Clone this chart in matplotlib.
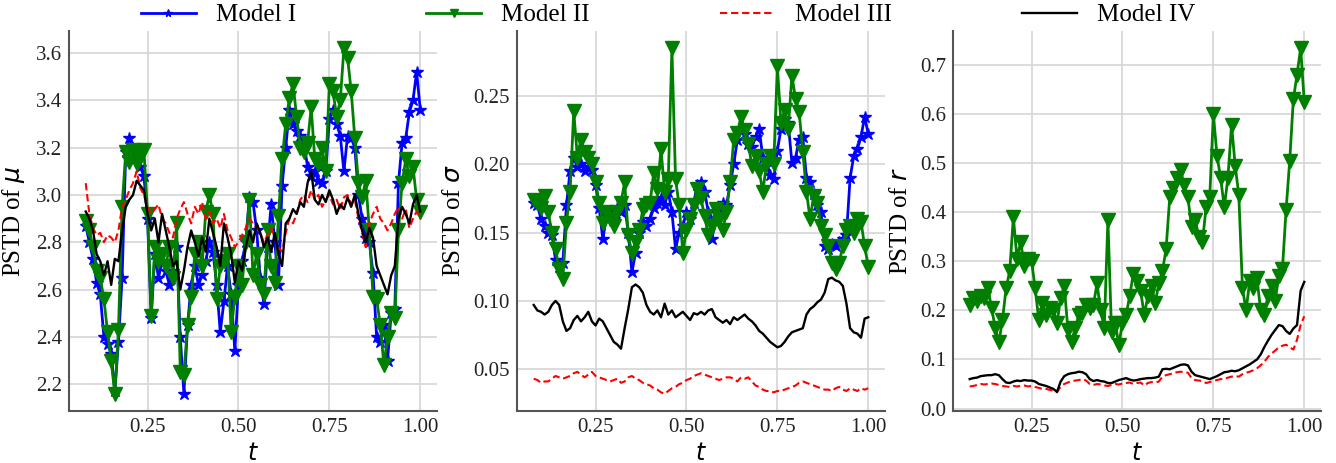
import numpy as np
import matplotlib
matplotlib.use("Agg")
import matplotlib.pyplot as plt

t = np.round(np.linspace(0.08, 1.00, 93), 2)

# ---- Panel 1: PSTD of mu ----
mu_m1 = [2.87,2.80,2.73,2.63,2.58,2.40,2.37,2.33,2.17,2.38,
         2.65,3.18,3.24,3.15,3.18,3.12,3.08,2.90,2.48,2.75,
         2.65,2.72,2.68,2.62,2.68,2.78,2.40,2.16,2.45,2.62,
         2.70,2.62,2.66,2.72,2.80,2.76,2.62,2.42,2.55,2.70,
         2.58,2.34,2.62,2.72,2.80,2.99,2.97,2.85,2.65,2.54,
         2.78,2.96,2.80,2.62,3.04,3.20,3.36,3.30,3.27,3.25,
         3.22,3.12,3.08,3.10,3.06,3.05,3.10,3.32,3.36,3.30,
         3.25,3.10,3.25,3.24,3.20,3.00,2.90,2.82,2.80,2.67,
         2.40,2.38,2.45,2.30,2.50,2.52,3.05,3.22,3.24,3.35,
         3.40,3.52,3.36]
mu_m2 = [2.89,2.85,2.78,2.68,2.65,2.56,2.42,2.30,2.16,2.43,
         2.95,3.18,3.14,3.19,3.13,3.17,3.19,2.92,2.49,2.78,
         2.72,2.75,2.70,2.78,2.65,2.88,2.25,2.24,2.45,2.57,
         2.75,2.80,2.70,2.93,3.00,2.92,2.56,2.70,2.72,2.75,
         2.42,2.57,2.70,2.62,2.80,2.98,2.66,2.75,2.62,2.58,
         2.85,2.70,2.63,2.91,3.15,3.30,3.41,3.47,3.33,3.20,
         3.18,3.22,3.37,3.15,3.13,3.20,3.10,3.47,3.44,3.33,
         3.40,3.62,3.58,3.44,3.24,3.05,2.99,3.06,2.85,2.57,
         2.56,2.45,2.28,2.40,2.50,2.48,2.85,3.05,3.15,3.08,
         3.12,2.98,2.93]
mu_m3 = [3.05,2.92,2.86,2.83,2.84,2.80,2.83,2.82,2.80,2.85,
         2.95,2.98,3.02,3.05,3.10,3.03,3.00,2.95,2.92,2.94,
         2.96,2.90,2.88,2.84,2.82,2.90,2.94,2.97,2.92,2.88,
         2.95,2.92,2.97,2.90,2.93,2.88,2.90,2.86,2.92,2.85,
         2.82,2.78,2.80,2.83,2.86,2.90,2.88,2.86,2.84,2.80,
         2.83,2.86,2.82,2.78,2.76,2.84,2.90,2.88,2.92,2.98,
         3.00,2.97,3.02,2.98,3.00,2.95,2.98,3.00,2.96,2.98,
         2.94,2.99,3.00,2.96,2.98,2.90,2.84,2.78,2.88,2.92,
         2.95,2.90,2.88,2.85,2.88,2.92,2.95,2.90,2.94,2.86,
         2.90,2.93,2.90]
mu_m4 = [2.93,2.90,2.85,2.75,2.72,2.66,2.72,2.62,2.73,2.72,
         2.85,2.95,2.98,3.00,3.06,3.04,3.02,2.92,2.85,2.90,
         2.80,2.92,2.85,2.78,2.70,2.72,2.60,2.68,2.78,2.85,
         2.80,2.74,2.82,2.76,2.90,2.84,2.78,2.70,2.88,2.82,
         2.75,2.63,2.72,2.68,2.78,2.85,2.80,2.88,2.84,2.78,
         2.82,2.76,2.84,2.75,2.70,2.88,2.90,2.94,2.92,2.97,
         2.95,3.05,3.10,2.98,2.96,3.00,2.97,3.02,2.98,2.92,
         2.96,2.94,2.99,2.95,3.00,2.92,2.85,2.80,2.86,2.82,
         2.70,2.66,2.62,2.58,2.66,2.70,2.90,2.95,2.92,2.88,
         2.96,3.00,2.93]

# ---- Panel 2: PSTD of sigma ----
sg_m1 = [.172,.170,.160,.155,.150,.148,.130,.125,.128,.170,
         .195,.205,.198,.200,.195,.198,.196,.185,.168,.145,
         .162,.165,.160,.168,.165,.170,.150,.121,.135,.150,
         .158,.155,.160,.168,.172,.175,.170,.180,.165,.138,
         .150,.155,.165,.160,.172,.185,.187,.180,.165,.145,
         .160,.168,.172,.170,.185,.200,.218,.226,.222,.215,
         .213,.220,.226,.205,.199,.192,.189,.210,.226,.233,
         .230,.201,.205,.218,.220,.190,.187,.178,.170,.165,
         .140,.138,.142,.140,.143,.145,.148,.190,.206,.211,
         .220,.235,.222]
sg_m2 = [.174,.172,.168,.177,.165,.150,.138,.123,.116,.157,
         .180,.239,.205,.218,.209,.205,.200,.187,.172,.157,
         .165,.160,.155,.165,.172,.187,.148,.135,.143,.152,
         .167,.170,.172,.194,.182,.211,.180,.189,.285,.189,
         .170,.135,.152,.160,.170,.182,.175,.162,.148,.155,
         .167,.160,.152,.165,.187,.218,.223,.235,.225,.215,
         .199,.206,.195,.180,.200,.206,.200,.272,.230,.240,
         .226,.265,.248,.238,.209,.180,.160,.177,.172,.155,
         .148,.140,.128,.123,.128,.140,.152,.155,.150,.160,
         .158,.140,.125]
sg_m3 = [.043,.042,.040,.041,.041,.043,.045,.044,.043,.044,
         .045,.047,.048,.046,.044,.046,.048,.045,.044,.043,
         .042,.041,.042,.043,.040,.041,.044,.045,.043,.042,
         .040,.039,.038,.036,.035,.033,.032,.034,.036,.037,
         .039,.040,.042,.043,.045,.046,.047,.046,.045,.044,
         .043,.042,.043,.044,.044,.043,.041,.044,.043,.044,
         .041,.038,.037,.035,.034,.034,.033,.034,.034,.035,
         .036,.037,.038,.040,.041,.040,.039,.038,.037,.036,
         .035,.035,.034,.036,.037,.035,.034,.036,.035,.034,
         .036,.035,.036]
sg_m4 = [.097,.093,.092,.090,.092,.097,.100,.097,.085,.078,
         .080,.086,.089,.085,.088,.092,.085,.082,.087,.085,
         .080,.075,.070,.068,.065,.080,.094,.110,.112,.110,
         .106,.097,.092,.090,.093,.088,.098,.090,.093,.088,
         .090,.092,.089,.086,.091,.090,.092,.090,.093,.094,
         .088,.086,.084,.086,.083,.088,.086,.088,.090,.087,
         .085,.082,.078,.076,.073,.070,.068,.066,.067,.070,
         .074,.077,.078,.079,.080,.090,.094,.096,.099,.101,
         .106,.116,.117,.115,.114,.111,.098,.080,.077,.076,
         .073,.087,.088]

# ---- Panel 3: PSTD of r ----
r_m2 = [.210,.225,.220,.230,.225,.245,.205,.165,.135,.180,
        .245,.280,.390,.305,.340,.290,.305,.300,.245,.180,
        .215,.190,.205,.200,.175,.225,.250,.160,.135,.165,
        .190,.195,.210,.205,.210,.255,.200,.165,.385,.155,
        .175,.130,.175,.190,.230,.275,.260,.240,.190,.230,
        .250,.215,.255,.280,.325,.430,.450,.470,.485,.455,
        .430,.370,.385,.350,.340,.410,.430,.600,.515,.470,
        .410,.470,.578,.495,.435,.245,.200,.260,.245,.265,
        .200,.190,.230,.250,.220,.270,.285,.405,.505,.630,
        .680,.734,.625]
r_m3 = [.045,.046,.048,.050,.049,.050,.051,.050,.048,.046,
        .045,.044,.046,.045,.046,.047,.045,.046,.044,.042,
        .040,.040,.038,.036,.033,.045,.050,.053,.056,.057,
        .058,.060,.057,.050,.048,.050,.049,.047,.046,.048,
        .050,.049,.051,.052,.053,.050,.052,.053,.047,.052,
        .054,.053,.055,.065,.068,.070,.072,.074,.075,.074,
        .073,.062,.058,.057,.056,.052,.054,.056,.058,.060,
        .060,.063,.065,.066,.065,.070,.073,.075,.078,.082,
        .088,.095,.105,.112,.118,.125,.128,.130,.125,.120,
        .140,.170,.188]
r_m4 = [.060,.062,.063,.066,.067,.068,.068,.070,.068,.060,
        .053,.052,.055,.057,.056,.058,.057,.057,.055,.050,
        .048,.046,.043,.040,.034,.055,.066,.070,.072,.073,
        .075,.074,.070,.060,.056,.058,.056,.055,.052,.052,
        .055,.058,.060,.062,.059,.057,.058,.060,.061,.062,
        .062,.063,.065,.080,.081,.080,.083,.086,.089,.090,
        .088,.075,.068,.066,.064,.062,.060,.063,.066,.070,
        .074,.075,.077,.076,.078,.082,.086,.090,.095,.100,
        .110,.125,.138,.150,.160,.170,.168,.158,.152,.163,
        .170,.240,.258]

model_names = ["Model I", "Model II", "Model III", "Model IV"]
ylabels = [r"PSTD of $\mu$", r"PSTD of $\sigma$", r"PSTD of $r$"]
xticks = [0.25, 0.50, 0.75, 1.00]

plt.rcParams["font.family"] = ["Liberation Serif", "DejaVu Sans"]
plt.rcParams["mathtext.fontset"] = "dejavusans"

W, H = 1336, 463
fig = plt.figure(figsize=(W / 100, H / 100), dpi=100)

boxes = [(69, 437), (517, 885), (953, 1321)]
top_px, bot_px = 31, 411

styles = {
    "m1": dict(color="#0000ff", lw=2.0, marker="*", ms=9, label=model_names[0]),
    "m2": dict(color="#007f00", lw=2.0, marker="v", ms=9.5, label=model_names[1]),
    "m3": dict(color="#ff0000", lw=1.5, ls=(0, (3.5, 1.8)), label=model_names[2]),
    "m4": dict(color="black", lw=1.7, label=model_names[3]),
}

panels = [
    dict(m1=mu_m1, m2=mu_m2, m3=mu_m3, m4=mu_m4, yticks=[2.2, 2.4, 2.6, 2.8, 3.0, 3.2, 3.4, 3.6], fmt="{:.1f}"),
    dict(m1=sg_m1, m2=sg_m2, m3=sg_m3, m4=sg_m4, yticks=[0.05, 0.10, 0.15, 0.20, 0.25], fmt="{:.2f}"),
    dict(m2=r_m2, m3=r_m3, m4=r_m4, yticks=[0.0, 0.1, 0.2, 0.3, 0.4, 0.5, 0.6, 0.7], fmt="{:.1f}"),
]

handles = None
for i, (p, (l, r)) in enumerate(zip(panels, boxes)):
    ax = fig.add_axes([l / W, 1 - bot_px / H, (r - l) / W, (bot_px - top_px) / H])
    ax.set_axisbelow(True)
    ax.grid(True, color="#d5d5d5", lw=1.2)
    hs = []
    for key in ["m1", "m2", "m3", "m4"]:
        if key in p:
            h, = ax.plot(t, p[key], **styles[key])
            hs.append(h)
    if i == 0:
        handles = hs
    ax.set_xticks(xticks)
    ax.set_xticklabels(["{:.2f}".format(v) for v in xticks])
    ax.set_yticks(p["yticks"])
    ax.set_yticklabels([p["fmt"].format(v) for v in p["yticks"]])
    ax.tick_params(length=0, labelsize=15, pad=5, colors="#222222")
    for s in ["top", "right"]:
        ax.spines[s].set_visible(False)
    for s in ["left", "bottom"]:
        ax.spines[s].set_color("#555555")
        ax.spines[s].set_linewidth(1.5)
    ax.set_xlabel(r"$t$", fontsize=17, labelpad=4)
    ax.set_ylabel(ylabels[i], fontsize=18, labelpad=6)
    if i == 2:
        ax.set_ylim(bottom=-0.005)

fig.legend(handles, model_names, loc="center", bbox_to_anchor=(0.5, 1 - 15 / H),
           ncol=4, frameon=False, fontsize=18, handlelength=2.2, handletextpad=0.8,
           columnspacing=5.2, numpoints=1, markerscale=0.6)

fig.savefig("out.png", dpi=100)
